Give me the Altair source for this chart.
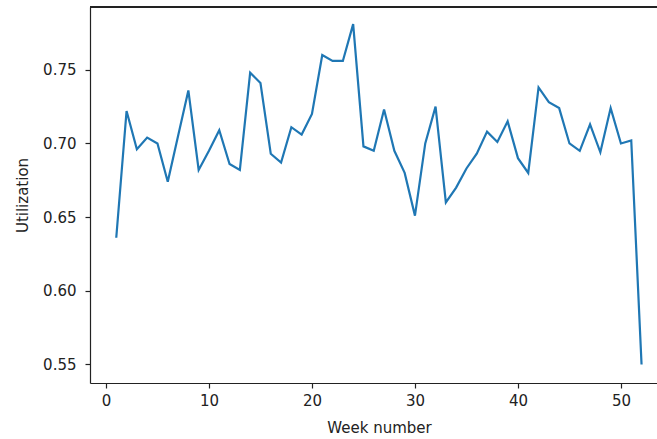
import altair as alt
import pandas as pd

weeks = list(range(1, 53))
utilization = [
    0.636, 0.722, 0.696, 0.704, 0.700, 0.674, 0.705, 0.736, 0.682, 0.695,
    0.709, 0.686, 0.682, 0.748, 0.741, 0.693, 0.687, 0.711, 0.706, 0.720,
    0.760, 0.756, 0.756, 0.781, 0.698, 0.695, 0.723, 0.695, 0.680, 0.651,
    0.700, 0.725, 0.660, 0.670, 0.683, 0.693, 0.708, 0.701, 0.715, 0.690,
    0.680, 0.738, 0.728, 0.724, 0.700, 0.695, 0.713, 0.694, 0.724, 0.700,
    0.702, 0.550,
]
x_ticks = [0, 10, 20, 30, 40, 50]
y_ticks = [0.55, 0.60, 0.65, 0.70, 0.75]

df = pd.DataFrame({"week": weeks, "util": utilization})

W, H = 567, 376
FONT = "DejaVu Sans"

line = alt.Chart(df).mark_line(color="#1f77b4", strokeWidth=2.2).encode(
    x=alt.X("week:Q",
            scale=alt.Scale(domain=[-1.55, 53.5], nice=False, zero=False),
            axis=alt.Axis(values=x_ticks, title="Week number", grid=False,
                          format="d", tickSize=5, labelPadding=5,
                          titleX=289, titleY=49, titleBaseline="alphabetic",
                          titleAnchor="middle")),
    y=alt.Y("util:Q",
            scale=alt.Scale(domain=[0.5374, 0.7926], nice=False, zero=False),
            axis=alt.Axis(values=y_ticks, title="Utilization", grid=False,
                          format=".2f", tickSize=5, labelPadding=9,
                          titleX=-63, titleBaseline="alphabetic")),
)

top_spine = alt.Chart(df).mark_rule(color="#222", strokeWidth=1.2).encode(
    x=alt.value(0), x2=alt.value(W), y=alt.value(0)
)

chart = alt.layer(line, top_spine).properties(
    width=W, height=H,
    autosize=alt.AutoSizeParams(type="none"),
    padding={"left": 90, "top": 7, "right": 0, "bottom": 56},
).configure_view(stroke=None).configure_axis(
    labelFont=FONT, titleFont=FONT, labelFontSize=15, titleFontSize=15,
    labelColor="#222", titleColor="#222", titleFontWeight="normal",
    domainColor="#222", tickColor="#222", domainWidth=1.2, tickWidth=1.2,
)

chart.save("out.html", embed_options={"renderer": "svg", "actions": False})
